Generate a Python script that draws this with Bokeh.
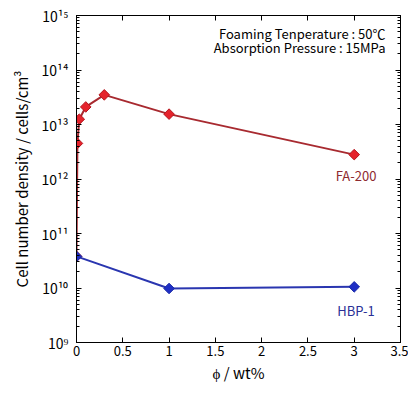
from bokeh.plotting import figure
from bokeh.models import Range1d, LinearAxis, LogAxis, Label, FixedTicker, CustomJSTickFormatter
from bokeh.embed import file_html
from bokeh.resources import INLINE

# data
fa_x = [0, 0.01, 0.03, 0.1, 0.3, 1, 3]
fa_y = [3.8e10, 4.5e12, 1.25e13, 2.1e13, 3.5e13, 1.55e13, 2.8e12]
hbp_x = [0, 1, 3]
hbp_y = [3.8e10, 9.8e9, 1.05e10]
x_ticks = [0, 0.5, 1, 1.5, 2, 2.5, 3, 3.5]
x_labels = ["0", "0.5", "1", "1.5", "2", "2.5", "3", "3.5"]
y_exps = [9, 10, 11, 12, 13, 14, 15]
y_labels = ["10⁹", "10¹⁰", "10¹¹", "10¹²", "10¹³", "10¹⁴", "10¹⁵"]

FONT = "Noto Sans CJK JP"
RED_LINE = "#a82a30"
RED_FILL = "#e5232c"
BLUE_LINE = "#2a36b0"
BLUE_FILL = "#1f2fc4"

y_major = [10.0 ** e for e in y_exps]
y_minor = [k * 10.0 ** e for e in y_exps[:-1] for k in range(2, 10)]

p = figure(width=408, height=392, output_backend="svg", toolbar_location=None,
           y_axis_type="log", x_range=Range1d(0, 3.5), y_range=Range1d(1e9, 1e15),
           min_border_left=76, min_border_right=8, min_border_top=15, min_border_bottom=50)
p.grid.visible = False
p.outline_line_color = "black"
p.outline_line_width = 1
p.background_fill_color = "white"
p.border_fill_color = "white"

xt = FixedTicker(ticks=x_ticks, minor_ticks=[])
yt = FixedTicker(ticks=y_major, minor_ticks=y_minor)
xfmt = CustomJSTickFormatter(args=dict(tvals=x_ticks, tlabels=x_labels),
                             code="const i = tvals.indexOf(tick); return i >= 0 ? tlabels[i] : '';")
yfmt = CustomJSTickFormatter(args=dict(evals=y_exps, elabels=y_labels),
                             code="const i = evals.indexOf(Math.round(Math.log10(tick))); return i >= 0 ? elabels[i] : '';")

def style(ax, labels=True):
    ax.axis_line_color = "black"
    ax.major_tick_in = 5
    ax.major_tick_out = 0
    ax.minor_tick_in = 3
    ax.minor_tick_out = 0
    ax.major_tick_line_color = "black"
    ax.minor_tick_line_color = "black"
    if labels:
        ax.major_label_text_font = FONT
        ax.major_label_text_font_size = "13px"
        ax.major_label_text_color = "black"
        ax.axis_label_text_font = FONT
        ax.axis_label_text_font_size = "15px"
        ax.axis_label_text_font_style = "normal"
        ax.axis_label_text_color = "black"
    else:
        ax.formatter = CustomJSTickFormatter(code="return '';")
        ax.major_label_text_font_size = "1px"
        ax.major_label_standoff = 0

xa = p.xaxis[0]
xa.ticker = xt
xa.formatter = xfmt
style(xa)
xa.major_label_standoff = 3
xa.axis_label = "ϕ / wt%"
xa.axis_label_standoff = 3

ya = p.yaxis[0]
ya.ticker = yt
ya.formatter = yfmt
style(ya)
ya.major_label_text_font_size = "14px"
ya.major_label_standoff = 8
ya.axis_label = "Cell number density / cells/cm³"
ya.axis_label_standoff = 6

top = LinearAxis(ticker=FixedTicker(ticks=x_ticks, minor_ticks=[]))
style(top, labels=False)
p.add_layout(top, "above")
right = LogAxis(ticker=FixedTicker(ticks=y_major, minor_ticks=y_minor))
style(right, labels=False)
p.add_layout(right, "right")

p.line(fa_x, fa_y, line_color=RED_LINE, line_width=2)
p.scatter(fa_x, fa_y, marker="square", angle=0.785398, size=7.5,
          fill_color=RED_FILL, line_color="#b5161f", line_width=1)
p.line(hbp_x, hbp_y, line_color=BLUE_LINE, line_width=2)
p.scatter(hbp_x, hbp_y, marker="square", angle=0.785398, size=7.5,
          fill_color=BLUE_FILL, line_color="#1a2aa8", line_width=1)

p.add_layout(Label(x=3.5, y=1e15, text="Foaming Tenperature : 50℃", x_offset=-15, y_offset=-18,
                   text_font=FONT, text_font_size="13px", text_color="black",
                   text_align="right", text_baseline="middle"))
p.add_layout(Label(x=3.5, y=1e15, text="Absorption Pressure : 15MPa", x_offset=-15, y_offset=-32,
                   text_font=FONT, text_font_size="13px", text_color="black",
                   text_align="right", text_baseline="middle"))
p.add_layout(Label(x=3.02, y=1.15e12, text="FA-200", text_font=FONT, text_font_size="13px",
                   text_color="#8e2a30", text_align="center", text_baseline="middle"))
p.add_layout(Label(x=3.02, y=3.9e9, text="HBP-1", text_font=FONT, text_font_size="13px",
                   text_color="#2a2f96", text_align="center", text_baseline="middle"))

open("out.html", "w").write(file_html(p, INLINE))
